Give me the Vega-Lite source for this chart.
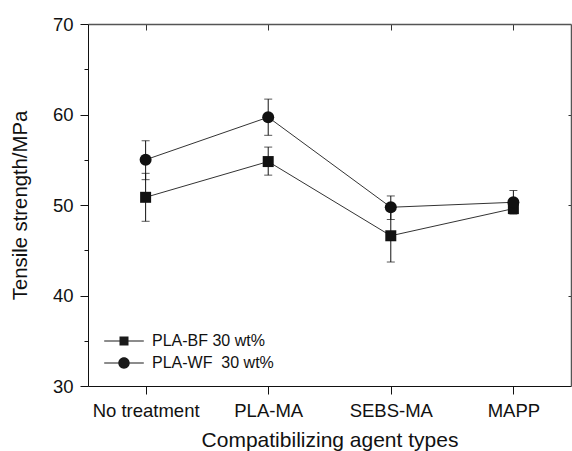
{
  "$schema": "https://vega.github.io/schema/vega-lite/v6.json",
  "width": 483,
  "height": 362,
  "autosize": {"type": "none"},
  "padding": {"left": 88, "top": 24, "right": 1, "bottom": 65},
  "background": "white",
  "config": {
    "font": "Liberation Sans",
    "view": {"stroke": null},
    "axis": {"grid": false, "labelFont": "Liberation Sans", "titleFont": "Liberation Sans", "titleFontWeight": "normal"}
  },
  "data": {
    "values": [
      {"agent": "No treatment", "series": "PLA-BF 30 wt%", "v": 50.85, "lo": 48.2, "hi": 53.5},
      {"agent": "PLA-MA", "series": "PLA-BF 30 wt%", "v": 54.8, "lo": 53.3, "hi": 56.4},
      {"agent": "SEBS-MA", "series": "PLA-BF 30 wt%", "v": 46.6, "lo": 43.7, "hi": 49.5},
      {"agent": "MAPP", "series": "PLA-BF 30 wt%", "v": 49.6, "lo": 49.1, "hi": 50.1},
      {"agent": "No treatment", "series": "PLA-WF\u00a0 30 wt%", "v": 55.0, "lo": 52.8, "hi": 57.1},
      {"agent": "PLA-MA", "series": "PLA-WF\u00a0 30 wt%", "v": 59.7, "lo": 57.7, "hi": 61.7},
      {"agent": "SEBS-MA", "series": "PLA-WF\u00a0 30 wt%", "v": 49.75, "lo": 48.4, "hi": 51.0},
      {"agent": "MAPP", "series": "PLA-WF\u00a0 30 wt%", "v": 50.3, "lo": 49.0, "hi": 51.6}
    ]
  },
  "resolve": {"axis": {"x": "independent", "y": "independent"}, "scale": {"shape": "independent", "size": "independent"}},
  "layer": [
    {
      "mark": {"type": "line", "color": "#333", "strokeWidth": 1},
      "encoding": {
        "x": {"field": "agent", "type": "nominal", "sort": ["No treatment", "PLA-MA", "SEBS-MA", "MAPP"],
          "scale": {"type": "point", "padding": 0.47},
          "axis": {"orient": "bottom", "title": "Compatibilizing agent types", "titleFontSize": 21, "titleColor": "#111", "titlePadding": 10,
            "labelAngle": 0, "labelFontSize": 18.5, "labelColor": "#111", "labelPadding": 7, "tickSize": 8, "tickColor": "#111", "domainColor": "#111", "domainWidth": 1}},
        "y": {"field": "v", "type": "quantitative", "scale": {"domain": [30, 70], "nice": false, "zero": false},
          "axis": {"orient": "left", "title": "Tensile strength/MPa", "titleFontSize": 20.3, "titleColor": "#111", "titlePadding": 22,
            "values": [30, 35, 40, 45, 50, 55, 60, 65, 70],
            "labelExpr": "datum.value % 10 === 0 ? datum.label : ''",
            "tickSize": {"condition": {"test": "datum.value % 10 === 0", "value": 8}, "value": 4},
            "labelFontSize": 18.5, "labelColor": "#111", "labelPadding": 7, "tickColor": "#111", "domainColor": "#111", "domainWidth": 1}},
        "detail": {"field": "series"}
      }
    },
    {
      "mark": {"type": "rule", "color": "#111", "strokeWidth": 1},
      "encoding": {
        "x": {"field": "agent", "type": "nominal", "sort": ["No treatment", "PLA-MA", "SEBS-MA", "MAPP"],
          "axis": {"orient": "top", "title": null, "labels": false, "tickSize": -6, "tickColor": "#333", "domainColor": "#555", "domainWidth": 1.5}},
        "y": {"field": "lo", "type": "quantitative",
          "axis": {"orient": "right", "title": null, "labels": false, "values": [40, 50, 60], "tickSize": -3, "tickColor": "#333", "domainColor": "#555", "domainWidth": 1.5}},
        "y2": {"field": "hi"}
      }
    },
    {
      "mark": {"type": "tick", "color": "#111", "thickness": 1, "size": 8},
      "encoding": {
        "x": {"field": "agent", "type": "nominal", "sort": ["No treatment", "PLA-MA", "SEBS-MA", "MAPP"], "axis": null},
        "y": {"field": "lo", "type": "quantitative", "axis": null}
      }
    },
    {
      "mark": {"type": "tick", "color": "#111", "thickness": 1, "size": 8},
      "encoding": {
        "x": {"field": "agent", "type": "nominal", "sort": ["No treatment", "PLA-MA", "SEBS-MA", "MAPP"], "axis": null},
        "y": {"field": "hi", "type": "quantitative", "axis": null}
      }
    },
    {
      "mark": {"type": "point", "filled": true, "color": "#111", "opacity": 1},
      "encoding": {
        "x": {"field": "agent", "type": "nominal", "sort": ["No treatment", "PLA-MA", "SEBS-MA", "MAPP"], "axis": null},
        "y": {"field": "v", "type": "quantitative", "axis": null},
        "shape": {"field": "series", "type": "nominal", "scale": {"domain": ["PLA-BF 30 wt%", "PLA-WF\u00a0 30 wt%"], "range": ["square", "circle"]}, "legend": null},
        "size": {"field": "series", "type": "nominal", "scale": {"domain": ["PLA-BF 30 wt%", "PLA-WF\u00a0 30 wt%"], "range": [121, 144]}, "legend": null}
      }
    },
    {
      "transform": [{"filter": "false"}],
      "mark": {"type": "point", "filled": true, "color": "#1a1a1a", "opacity": 1},
      "encoding": {
        "x": {"field": "agent", "type": "nominal", "sort": ["No treatment", "PLA-MA", "SEBS-MA", "MAPP"], "axis": null},
        "y": {"field": "v", "type": "quantitative", "axis": null},
        "shape": {"field": "series", "type": "nominal",
          "scale": {"domain": ["PLA-BF 30 wt%", "PLA-WF\u00a0 30 wt%"],
            "range": ["M-3.3,-0.09H3.3V0.09H-3.3ZM-0.75,-0.75H0.75V0.75H-0.75Z", "M-3.3,-0.09H3.3V0.09H-3.3ZM-0.95,0A0.95,0.95,0,1,1,0.95,0A0.95,0.95,0,1,1,-0.95,0Z"]},
          "legend": {"title": null, "orient": "none", "legendX": 28, "legendY": 309, "symbolSize": 144,
            "symbolFillColor": "#1a1a1a", "symbolStrokeWidth": 0, "symbolOpacity": 1,
            "labelOffset": 20, "labelFontSize": 16, "labelFont": "Liberation Sans", "labelColor": "#111", "rowPadding": 6, "padding": 0}}
      }
    }
  ]
}
